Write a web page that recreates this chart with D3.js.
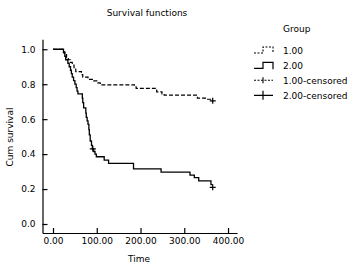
<!DOCTYPE html>
<html><head><meta charset="utf-8">
<script src="https://cdn.jsdelivr.net/npm/d3@7"></script>
<style>body{margin:0;background:#fff}svg{display:block}text{font-family:"DejaVu Sans",sans-serif;font-size:9px;fill:#000}</style>
</head><body><svg id="c" width="355" height="269"></svg>
<script>
const title = "Survival functions";
const xLabel = "Time";
const yLabel = "Cum survival";
const legendTitle = "Group";
const legendLabels = ["1.00","2.00","1.00-censored","2.00-censored"];
const xTicks = [0,100,200,300,400];
const yTicks = [0,0.2,0.4,0.6,0.8,1.0];
// Group 1.00 : [time, survival]
const g1Times = [0,24,27,31,35,40,44,48,52,65,68,80,93,102,108,186,190,237,249,254,330,348,360,365];
const g1Surv  = [1.0,0.985,0.97,0.955,0.94,0.925,0.91,0.895,0.872,0.855,0.84,0.828,0.819,0.808,0.796,0.785,0.776,0.756,0.745,0.737,0.72,0.714,0.707,0.707];
const g1Censor = [[365,0.705]];
// Group 2.00
const g2Times = [0,24,27,29,34,37,40,42,44,47,50,53,55,57,67,68,70,75,76,78,80,82,83,85,88,90,93,96,99,117,127,184,247,313,323,333,361,365];
const g2Surv  = [1.0,0.98,0.96,0.94,0.92,0.90,0.88,0.86,0.84,0.82,0.80,0.78,0.76,0.745,0.72,0.695,0.665,0.635,0.61,0.59,0.57,0.54,0.51,0.475,0.45,0.43,0.415,0.40,0.385,0.366,0.347,0.316,0.297,0.28,0.265,0.247,0.225,0.225];
const g2Censor = [[91,0.43],[365,0.21]];

const svg = d3.select("#c");
const x = d3.scaleLinear().domain([-24,420.5]).range([42.5,237]);
const y = d3.scaleLinear().domain([-0.0515,1.057]).range([233,39.3]);

svg.append("text").attr("x",147).attr("y",16).attr("text-anchor","middle").text(title);

const xa = svg.append("g").attr("transform","translate(0,233)")
  .call(d3.axisBottom(x).tickValues(xTicks).tickFormat(d3.format(".2f")).tickSize(-5).tickSizeOuter(0).tickPadding(5));
const ya = svg.append("g").attr("transform","translate(42.5,0)")
  .call(d3.axisLeft(y).tickValues(yTicks).tickFormat(d3.format(".1f")).tickSize(-5).tickSizeOuter(0).tickPadding(7));
[xa,ya].forEach(a=>{a.selectAll("text").style("font-family","DejaVu Sans").style("font-size","9px");
  a.select(".domain").attr("stroke","#000").attr("stroke-width",1.2);
  a.selectAll(".tick line").attr("stroke","#000").attr("stroke-width",1.2);});

svg.append("text").attr("x",139).attr("y",262).attr("text-anchor","middle").text(xLabel);
svg.append("text").attr("transform","translate(13,137) rotate(-90)").attr("text-anchor","middle").text(yLabel);

const line = d3.line().x(d=>x(d[0])).y(d=>y(d[1])).curve(d3.curveStepAfter);
const g1 = g1Times.map((t,i)=>[t,g1Surv[i]]);
const g2 = g2Times.map((t,i)=>[t,g2Surv[i]]);
svg.append("path").attr("d",line(g1)).attr("fill","none").attr("stroke","#000").attr("stroke-width",1.2).attr("stroke-dasharray","4,2");
svg.append("path").attr("d",line(g2)).attr("fill","none").attr("stroke","#000").attr("stroke-width",1.3);
function cross(data, s){
  data.forEach(d=>{
    svg.append("path").attr("d",`M${x(d[0])-s},${y(d[1])}h${2*s}M${x(d[0])},${y(d[1])-s}v${2*s}`)
      .attr("stroke","#000").attr("stroke-width",1.2).attr("fill","none");
  });
}
cross(g1Censor,3); cross(g2Censor,3);

// legend
const lx0 = 254, lx1 = 273, lmid = 263, tx = 283;
svg.append("text").attr("x",tx).attr("y",32).text(legendTitle);
const ly = [50,65.3,80.3,95.3];
legendLabels.forEach((l,i)=>svg.append("text").attr("x",tx).attr("y",ly[i]+3.5).text(l));
svg.append("path").attr("d",`M${lx0},${ly[0]+3}H${lmid}V${ly[0]-3}H${lx1}V${ly[0]+3}`).attr("fill","none").attr("stroke","#000").attr("stroke-width",1.1).attr("stroke-dasharray","2,1.5");
svg.append("path").attr("d",`M${lx0},${ly[1]+3}H${lmid}V${ly[1]-3}H${lx1}V${ly[1]+4}`).attr("fill","none").attr("stroke","#000").attr("stroke-width",1.2);
svg.append("path").attr("d",`M${lx0},${ly[2]}H${lx1}`).attr("fill","none").attr("stroke","#000").attr("stroke-width",1.1).attr("stroke-dasharray","2,1.5");
svg.append("path").attr("d",`M${lmid},${ly[2]-3}V${ly[2]+3}`).attr("stroke","#000").attr("stroke-width",1.1);
svg.append("path").attr("d",`M${lx0},${ly[3]}H${lx1}M${lmid},${ly[3]-4.5}V${ly[3]+4.5}`).attr("fill","none").attr("stroke","#000").attr("stroke-width",1.2);
</script></body></html>
